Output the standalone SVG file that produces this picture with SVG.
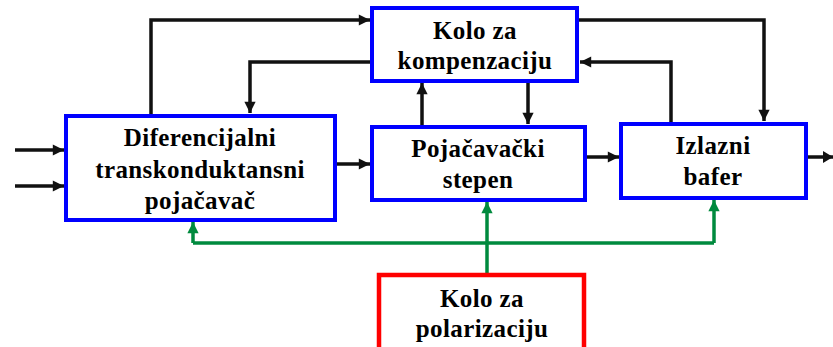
<svg xmlns="http://www.w3.org/2000/svg" width="833" height="347" viewBox="0 0 833 347">
  <style>
    .blk { fill: #ffffff; stroke: #0000ff; stroke-width: 4; }
    .red { fill: #ffffff; stroke: #ff0000; stroke-width: 4.5; }
    .lbl { font-family: "Liberation Serif", "Times New Roman", serif; font-weight: bold; font-size: 25px; letter-spacing: 0.4px; fill: #000000; text-anchor: middle; }
    .k { fill: none; stroke: #111111; stroke-width: 3.5; }
    .g { fill: none; stroke: #008a3e; stroke-width: 3.5; }
  </style>
  <defs>
    <marker id="ak" viewBox="0 0 10 10" refX="10" refY="5" markerWidth="3.4" markerHeight="3.2" orient="auto" markerUnits="strokeWidth">
      <path d="M0,0 L10,5 L0,10 Z" fill="#111111"/>
    </marker>
    <marker id="ag" viewBox="0 0 10 10" refX="10" refY="5" markerWidth="3.4" markerHeight="3.2" orient="auto" markerUnits="strokeWidth">
      <path d="M0,0 L10,5 L0,10 Z" fill="#008a3e"/>
    </marker>
  </defs>

  <g id="connectors">
    <!-- inputs -->
    <path class="k" d="M15,150 H64" marker-end="url(#ak)"/>
    <path class="k" d="M15,186 H64" marker-end="url(#ak)"/>
    <!-- diff amp -> compensation -->
    <path class="k" d="M151,114 V20 H370" marker-end="url(#ak)"/>
    <!-- compensation -> diff amp -->
    <path class="k" d="M371,62 H250 V113" marker-end="url(#ak)"/>
    <!-- diff amp -> gain stage -->
    <path class="k" d="M336,164 H370" marker-end="url(#ak)"/>
    <!-- gain stage <-> compensation -->
    <path class="k" d="M422,125 V83" marker-end="url(#ak)"/>
    <path class="k" d="M528,82 V124" marker-end="url(#ak)"/>
    <!-- gain stage -> buffer -->
    <path class="k" d="M586,157 H619" marker-end="url(#ak)"/>
    <!-- compensation -> buffer -->
    <path class="k" d="M578,20 H764 V121" marker-end="url(#ak)"/>
    <!-- buffer -> compensation -->
    <path class="k" d="M671,123 V62 H580" marker-end="url(#ak)"/>
    <!-- output -->
    <path class="k" d="M807,157 H833"/>
    <path d="M823,151 L833,157 L823,163 Z" fill="#111111"/>
    <!-- bias distribution -->
    <path class="g" d="M487,273 V202" marker-end="url(#ag)"/>
    <path class="g" d="M193,243 H714"/>
    <path class="g" d="M193,243 V222" marker-end="url(#ag)"/>
    <path class="g" d="M714,243 V200" marker-end="url(#ag)"/>
  </g>

  <g id="diff-amp">
    <rect class="blk" x="66" y="116" width="269" height="104"/>
    <text class="lbl" x="200" y="146">Diferencijalni</text>
    <text class="lbl" x="200" y="178">transkonduktansni</text>
    <text class="lbl" x="200" y="209">pojačavač</text>
  </g>

  <g id="compensation">
    <rect class="blk" x="372" y="8" width="205" height="73"/>
    <text class="lbl" x="475" y="39">Kolo za</text>
    <text class="lbl" x="475" y="69">kompenzaciju</text>
  </g>

  <g id="gain-stage">
    <rect class="blk" x="372" y="127" width="213" height="73"/>
    <text class="lbl" x="478" y="157">Pojačavački</text>
    <text class="lbl" x="478" y="188">stepen</text>
  </g>

  <g id="output-buffer">
    <rect class="blk" x="621" y="124" width="185" height="74"/>
    <text class="lbl" x="713" y="154">Izlazni</text>
    <text class="lbl" x="713" y="185">bafer</text>
  </g>

  <g id="bias">
    <rect class="red" x="379" y="275" width="205" height="80"/>
    <text class="lbl" x="482" y="307">Kolo za</text>
    <text class="lbl" x="482" y="337">polarizaciju</text>
  </g>
</svg>
